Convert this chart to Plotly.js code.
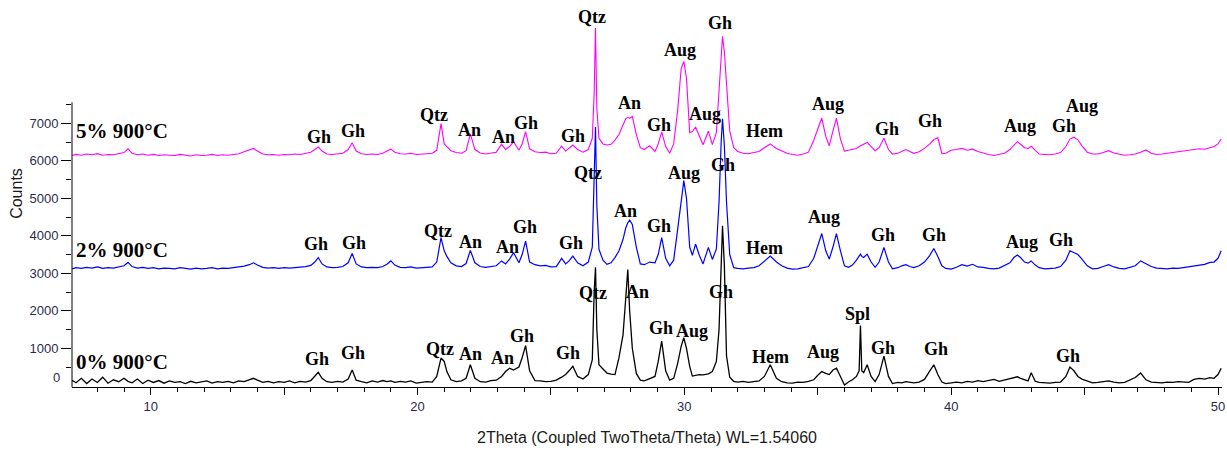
<!DOCTYPE html>
<html>
<head>
<meta charset="utf-8">
<script src="https://cdn.plot.ly/plotly-3.0.1.min.js"></script>
<style>html,body{margin:0;padding:0;background:#fff;}#chart{width:1227px;height:455px;}</style>
</head>
<body>
<div id="chart"></div>
<script>
// 2θ positions (degrees) shared by the three patterns
const twoTheta = [
7.05,7.2,7.4,7.6,7.8,8.0,8.2,8.4,8.6,8.8,
9.0,9.15,9.3,9.5,9.7,9.9,10.1,10.3,10.5,10.7,
10.9,11.1,11.3,11.5,11.7,11.9,12.1,12.3,12.5,12.7,
12.9,13.1,13.3,13.5,13.7,13.85,14.0,14.2,14.4,14.6,
14.8,15.0,15.2,15.4,15.6,15.8,16.0,16.15,16.28,16.42,
16.6,16.8,17.0,17.2,17.4,17.55,17.7,17.9,18.1,18.3,
18.5,18.7,18.85,19.0,19.15,19.35,19.55,19.75,19.95,20.15,
20.35,20.55,20.72,20.88,21.0,21.1,21.25,21.45,21.65,21.82,
21.98,22.15,22.35,22.55,22.75,22.95,23.15,23.3,23.45,23.6,
23.8,23.92,24.05,24.2,24.4,24.6,24.8,25.0,25.2,25.4,
25.55,25.68,25.82,26.0,26.2,26.4,26.55,26.62,26.67,26.72,
26.8,26.95,27.1,27.25,27.4,27.55,27.7,27.8,27.88,27.95,
28.05,28.2,28.35,28.5,28.7,28.9,29.02,29.15,29.3,29.45,
29.6,29.75,29.88,29.98,30.08,30.2,30.3,30.42,30.55,30.7,
30.9,31.05,31.2,31.3,31.38,31.43,31.5,31.58,31.7,31.85,
32.0,32.2,32.4,32.6,32.8,33.0,33.22,33.45,33.65,33.85,
34.05,34.25,34.45,34.65,34.85,35.0,35.15,35.3,35.43,35.57,
35.7,35.85,36.0,36.15,36.3,36.45,36.55,36.6,36.65,36.72,
36.85,37.0,37.15,37.3,37.48,37.65,37.8,38.0,38.15,38.3,
38.45,38.6,38.8,39.0,39.2,39.35,39.5,39.65,39.8,40.0,
40.2,40.4,40.6,40.8,41.0,41.2,41.4,41.6,41.8,42.0,
42.2,42.35,42.48,42.6,42.75,42.88,43.0,43.15,43.3,43.5,
43.7,43.9,44.1,44.3,44.45,44.6,44.75,44.9,45.1,45.3,
45.5,45.7,45.9,46.1,46.3,46.5,46.7,46.9,47.1,47.3,
47.5,47.7,47.9,48.1,48.3,48.5,48.7,48.9,49.1,49.3,
49.5,49.7,49.85,50.0,50.12];

// 5% 900°C (magenta, offset pattern)
const counts5 = [
6140,6170,6150,6180,6160,6190,6150,6170,6160,6200,
6220,6320,6200,6160,6180,6150,6170,6140,6160,6150,
6140,6170,6150,6130,6160,6140,6150,6170,6140,6160,
6150,6170,6190,6240,6300,6330,6260,6180,6160,6170,
6150,6170,6160,6180,6170,6200,6230,6300,6370,6260,
6180,6170,6180,6200,6300,6480,6260,6190,6170,6180,
6170,6200,6260,6310,6230,6190,6180,6200,6170,6190,
6190,6200,6280,6990,6450,6380,6270,6220,6200,6270,
6720,6300,6210,6180,6200,6230,6440,6300,6380,6510,
6280,6450,6780,6320,6240,6220,6230,6190,6200,6390,
6260,6330,6420,6300,6230,6300,6600,7800,9540,7400,
6600,6450,6420,6440,6550,6700,6950,7120,7160,7130,
7180,6700,6350,6300,6400,6250,6450,6770,6380,6200,
6450,7350,8450,8650,8200,6750,6780,6900,6680,6430,
6790,6430,6750,7800,8900,9320,8900,8000,6800,6350,
6250,6200,6190,6220,6250,6350,6450,6330,6260,6200,
6170,6150,6180,6230,6550,6850,7140,6650,6400,6800,
7140,6580,6260,6280,6300,6330,6380,6400,6420,6450,
6490,6380,6270,6350,6600,6300,6180,6200,6250,6300,
6250,6200,6240,6330,6450,6560,6620,6190,6200,6280,
6300,6330,6280,6310,6250,6200,6170,6140,6160,6200,
6300,6420,6510,6440,6350,6330,6390,6280,6180,6170,
6160,6180,6220,6380,6580,6630,6560,6400,6230,6180,
6180,6220,6270,6210,6170,6150,6160,6180,6230,6290,
6200,6170,6180,6200,6220,6230,6250,6270,6290,6320,
6310,6350,6380,6450,6580];

// 2% 900°C (blue, offset pattern)
const counts2 = [
3120,3150,3130,3160,3140,3170,3130,3150,3140,3180,
3200,3290,3180,3140,3160,3130,3150,3120,3140,3130,
3120,3150,3130,3110,3140,3120,3130,3150,3120,3140,
3130,3150,3160,3190,3230,3280,3220,3160,3140,3150,
3130,3150,3140,3150,3160,3180,3210,3300,3420,3250,
3170,3150,3160,3180,3280,3530,3250,3170,3150,3160,
3150,3180,3240,3330,3220,3160,3150,3170,3140,3160,
3160,3170,3300,3950,3600,3450,3280,3200,3180,3260,
3610,3280,3180,3160,3180,3200,3330,3250,3380,3550,
3280,3500,3860,3300,3230,3200,3210,3170,3180,3400,
3250,3330,3460,3280,3200,3300,3700,5800,6900,4800,
3640,3350,3240,3280,3420,3600,3900,4200,4350,4420,
4300,3700,3250,3230,3300,3280,3500,3950,3400,3200,
3350,4180,4980,5470,5000,3700,3480,3780,3500,3250,
3690,3370,3650,4900,6500,7120,6400,4900,3500,3150,
3130,3120,3140,3150,3200,3320,3460,3300,3200,3140,
3110,3120,3140,3180,3400,3750,4060,3600,3380,3700,
4060,3600,3200,3160,3220,3350,3480,3510,3450,3420,
3510,3300,3160,3300,3690,3300,3120,3150,3200,3230,
3180,3150,3200,3300,3480,3660,3450,3200,3130,3110,
3160,3230,3190,3240,3170,3160,3130,3120,3140,3200,
3280,3420,3490,3420,3300,3270,3330,3220,3150,3120,
3120,3140,3180,3350,3600,3560,3500,3380,3200,3120,
3130,3180,3230,3170,3130,3120,3150,3200,3330,3250,
3180,3140,3130,3120,3140,3130,3150,3170,3200,3230,
3240,3290,3300,3400,3600];

// 0% 900°C (black)
const counts0 = [
150,80,200,60,180,90,230,70,160,110,
200,120,80,180,60,150,90,140,70,130,
90,110,60,120,80,100,130,70,110,90,
120,80,130,110,160,200,150,90,120,80,
110,90,130,80,120,100,140,250,360,200,
110,90,120,100,180,420,150,110,80,130,
100,140,110,130,90,120,100,130,70,90,
110,100,250,740,650,380,160,110,130,200,
560,200,110,100,140,150,250,380,470,420,
500,750,1070,400,140,130,110,120,150,230,
300,400,520,250,180,300,700,2500,3160,1500,
560,450,340,310,300,750,1350,2300,3100,2000,
1000,330,150,130,200,250,650,1190,400,150,
200,600,1050,1280,1000,520,260,280,300,290,
320,380,650,1500,3500,4270,3200,800,230,120,
100,120,90,110,130,250,560,200,110,80,
70,100,90,120,160,280,380,330,300,420,
470,250,20,100,160,250,400,1610,400,350,
560,250,110,300,790,250,60,90,80,110,
90,80,100,170,400,560,300,100,60,90,
100,80,120,100,140,110,130,170,120,150,
180,210,240,200,160,130,350,120,90,80,
70,90,100,250,500,400,250,180,130,80,
90,110,130,100,80,90,150,220,340,160,
100,90,80,100,90,110,100,90,170,200,
180,220,200,300,470];

const seriesNames = ['5% 900°C', '2% 900°C', '0% 900°C'];
const seriesColors = ['#ff00ff', '#0000ff', '#000000'];
const seriesWidths = [1.1, 1.2, 1.3];
const seriesLabelY = [6795, 3622, 635];

// Phase labels: [text, 2θ, counts]
const phases5 = [
['Gh',16.31,6636],['Gh',17.58,6795],['Qtz',20.62,7222],['An',21.93,6822],['An',23.24,6636],
['Gh',24.07,7009],['Gh',25.81,6662],['Qtz',26.54,9836],['An',27.93,7542],['Gh',29.05,6956],
['Aug',29.84,8956],['Aug',30.76,7249],['Gh',31.34,9676],['Hem',32.99,6782],['Aug',35.39,7516],
['Gh',37.58,6849],['Gh',39.19,7062],['Aug',42.58,6929],['Gh',44.21,6929],['Aug',44.92,7449]];
const phases2 = [
['Gh',16.18,3782],['Gh',17.62,3817],['Qtz',20.78,4137],['An',21.99,3843],['An',23.37,3694],
['Gh',24.03,4243],['Gh',25.74,3801],['Qtz',26.4,5667],['An',27.8,4662],['Gh',29.05,4262],
['Aug',30.0,5683],['Gh',31.44,5889],['Hem',33.02,3683],['Aug',35.25,4510],['Gh',37.44,4022],
['Gh',39.36,4022],['Aug',42.65,3843],['Gh',44.12,3889]];
const phases0 = [
['Gh',16.24,715],['Gh',17.57,867],['Qtz',20.84,973],['An',21.99,848],['An',23.18,733],
['Gh',23.93,1328],['Gh',25.65,883],['Qtz',26.57,2467],['An',28.24,2510],['Gh',29.12,1550],
['Aug',30.28,1462],['Gh',31.36,2510],['Hem',33.21,776],['Aug',35.19,893],['Spl',36.48,1915],
['Gh',37.44,1016],['Gh',39.43,973],['Gh',44.39,803]];

const yTicks = [1000,2000,3000,4000,5000,6000,7000];
const yMinorTicks = [500,1500,2500,3500,4500,5500,6500,7500];
const xTicks = [10,15,20,25,30,35,40,45,50];
const xTickText = ['10','','20','','30','','40','','50'];

const allCounts = [counts5, counts2, counts0];
const traces = allCounts.map((c, i) => ({
  type: 'scatter', mode: 'lines', x: twoTheta, y: c, name: seriesNames[i],
  line: {color: seriesColors[i], width: seriesWidths[i]}, hoverinfo: 'skip'
}));

const serif = 'Liberation Serif, Times New Roman, serif';
const sans = 'Liberation Sans, Arial, sans-serif';
const annotations = [];
[phases5, phases2, phases0].forEach(list => list.forEach(p => annotations.push({
  text: p[0], x: p[1], y: p[2], xref: 'x', yref: 'y', showarrow: false,
  xanchor: 'center', yanchor: 'middle',
  font: {family: serif, size: 18, color: '#000', weight: 'bold'}
})));
seriesNames.forEach((n, i) => annotations.push({
  text: n, x: 0.002, y: seriesLabelY[i], xref: 'paper', yref: 'y', showarrow: false,
  xanchor: 'left', yanchor: 'middle',
  font: {family: serif, size: 21, color: '#000', weight: 'bold'}
}));
annotations.push({text: '0', x: 0, y: 210, xref: 'paper', yref: 'y', showarrow: false,
  xanchor: 'right', yanchor: 'middle', xshift: -10,
  font: {family: sans, size: 13, color: '#2b2b4b'}});

const layout = {
  width: 1227, height: 455,
  margin: {l: 72, r: 5, t: 0, b: 68},
  paper_bgcolor: '#ffffff', plot_bgcolor: '#ffffff',
  showlegend: false,
  xaxis: {
    range: [7.05, 50.15], showgrid: false, zeroline: false,
    showline: true, linecolor: '#000', linewidth: 1,
    ticks: 'outside', tickmode: 'array', tickvals: xTicks, ticktext: xTickText,
    ticklen: 7, tickcolor: '#000', tickwidth: 1,
    minor: {ticks: 'outside', dtick: 1, tick0: 0, ticklen: 4, tickcolor: '#000', tickwidth: 1, showgrid: false},
    tickfont: {family: sans, size: 13, color: '#2b2b4b'},
    title: {text: '2Theta (Coupled TwoTheta/Theta) WL=1.54060', font: {family: sans, size: 16, color: '#1a1a1a'}, standoff: 19}
  },
  yaxis: {
    range: [-32, 10288], showgrid: false, zeroline: false, showline: false,
    ticks: 'outside', tickmode: 'array', tickvals: yTicks,
    ticklen: 10, tickcolor: '#000', tickwidth: 1,
    minor: {ticks: 'outside', tickmode: 'array', tickvals: yMinorTicks, ticklen: 5, tickcolor: '#000', tickwidth: 1, showgrid: false},
    tickfont: {family: sans, size: 13, color: '#2b2b4b'},
    title: {text: 'Counts', font: {family: sans, size: 16, color: '#1a1a1a'}, standoff: 2}
  },
  shapes: [{type: 'line', xref: 'paper', yref: 'y', x0: 0, x1: 0, y0: -32, y1: 7560,
    line: {color: '#000', width: 1}}],
  annotations: annotations
};

Plotly.newPlot('chart', traces, layout, {displayModeBar: false, staticPlot: true});
</script>
</body>
</html>
